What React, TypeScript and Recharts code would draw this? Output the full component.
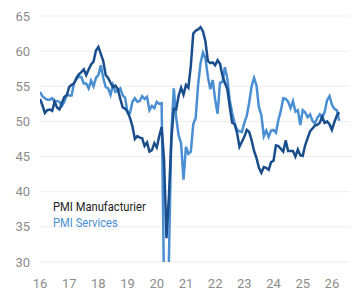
import React from 'react';
import { LineChart, Line, XAxis, YAxis, CartesianGrid } from 'recharts';

// Indices PMI mensuels, de déc. 2015 à mars 2026
const manufacturier = [
  53.2,
  52.3, 51.2, 51.6, 51.7, 51.5, 52.8, 52.0, 51.7, 52.6, 53.5, 53.7, 54.9,
  55.2, 55.4, 56.2, 56.7, 57.0, 57.4, 56.6, 57.4, 58.1, 58.5, 60.1, 60.6,
  59.6, 58.6, 56.6, 56.2, 55.5, 54.9, 55.1, 54.6, 53.2, 52.0, 51.8, 51.4,
  50.5, 49.3, 47.5, 47.9, 47.7, 47.6, 46.5, 47.0, 45.7, 45.9, 46.9, 46.3,
  47.9, 49.2, 44.5, 33.4, 39.4, 47.4, 51.8, 51.7, 53.7, 54.8, 53.8, 55.2,
  54.8, 57.9, 62.5, 62.9, 63.1, 63.4, 62.8, 61.4, 58.6, 58.3, 58.4, 58.0,
  58.7, 58.2, 56.5, 55.5, 54.6, 52.1, 49.8, 49.6, 48.4, 46.4, 47.1, 47.8,
  48.8, 48.5, 47.3, 45.8, 44.8, 43.4, 42.7, 43.5, 43.4, 43.1, 44.2, 44.4,
  46.6, 46.5, 46.1, 45.7, 47.3, 45.8, 45.8, 45.8, 45.0, 46.0, 45.2, 45.1,
  46.6, 47.6, 48.6, 49.0, 49.4, 49.5, 49.8, 50.7, 49.8, 50.0, 49.6, 48.8,
  49.9, 50.8, 51.3,
];

const services = [
  54.2,
  53.6, 53.3, 53.1, 53.1, 53.3, 52.8, 52.9, 52.8, 52.2, 52.8, 53.8, 53.7,
  53.7, 55.5, 56.0, 56.4, 56.3, 55.4, 55.4, 54.7, 55.8, 55.0, 56.2, 56.6,
  58.0, 56.2, 54.9, 54.7, 53.8, 55.2, 54.2, 54.4, 54.7, 53.7, 53.4, 51.2,
  51.2, 52.8, 53.3, 52.8, 52.9, 53.6, 53.2, 53.5, 51.6, 52.2, 51.9, 52.8,
  52.5, 52.6, 26.4, 12.0, 30.5, 48.3, 54.7, 50.5, 48.0, 46.9, 41.7, 46.4,
  45.4, 45.7, 49.6, 50.5, 55.2, 58.3, 59.8, 59.0, 56.4, 54.6, 55.9, 53.1,
  51.1, 55.5, 55.6, 57.7, 56.1, 53.0, 51.2, 49.8, 48.8, 48.6, 48.5, 49.8,
  50.8, 52.7, 55.0, 56.2, 55.1, 52.0, 50.9, 47.9, 48.7, 47.8, 48.7, 48.8,
  48.4, 50.2, 51.5, 53.3, 53.2, 52.8, 51.9, 52.9, 51.4, 51.6, 49.5, 51.6,
  51.3, 50.6, 51.0, 50.1, 49.7, 50.5, 51.0, 50.5, 51.3, 53.0, 53.6, 52.4,
  51.8, 51.6, 50.1,
];

const xTicks = [16, 17, 18, 19, 20, 21, 22, 23, 24, 25, 26];
const yTicks = [30, 35, 40, 45, 50, 55, 60, 65];

// chaque mois est placé en fin de mois (déc. 2015 = début 16)
const data = manufacturier.map((v, i) => ({
  t: 16 + i / 12,
  manufacturier: v,
  services: services[i],
}));

const DARK = '#1a4d8c';
const LIGHT = '#4a8fd3';
const tickStyle = { fontSize: 13, fill: '#8c8c8c', fontFamily: 'Roboto, sans-serif' };

export default function App() {
  return (
    <div style={{ position: 'absolute', left: 0, top: 0, width: 358, height: 290, background: '#fff' }}>
      <LineChart width={358} height={290} data={data} margin={{ top: 16, right: 8, bottom: 0, left: 0 }}>
        <CartesianGrid horizontal vertical={false} stroke="#ededed" />
        <XAxis
          type="number"
          dataKey="t"
          domain={[16, 26.62]}
          ticks={xTicks}
          allowDataOverflow
          axisLine={false}
          tickLine={false}
          tick={tickStyle}
          height={28}
          tickMargin={11}
        />
        <YAxis
          domain={[30, 65]}
          ticks={yTicks}
          allowDataOverflow
          axisLine={false}
          tickLine={false}
          tick={tickStyle}
          width={40}
          tickMargin={4}
        />
        <Line
          type="linear"
          dataKey="services"
          stroke={LIGHT}
          strokeWidth={2.5}
          dot={false}
          isAnimationActive={false}
        />
        <Line
          type="linear"
          dataKey="manufacturier"
          stroke={DARK}
          strokeWidth={2.5}
          dot={false}
          isAnimationActive={false}
        />
      </LineChart>
      {/* légende en surimpression */}
      <div
        style={{
          position: 'absolute',
          left: 53,
          top: 199,
          fontFamily: 'Roboto, sans-serif',
          fontSize: 13,
          lineHeight: '16px',
          transform: 'scaleX(0.86)',
          transformOrigin: 'left top',
          whiteSpace: 'nowrap',
        }}
      >
        <div style={{ color: '#222' }}>PMI Manufacturier</div>
        <div style={{ color: LIGHT }}>PMI Services</div>
      </div>
    </div>
  );
}
